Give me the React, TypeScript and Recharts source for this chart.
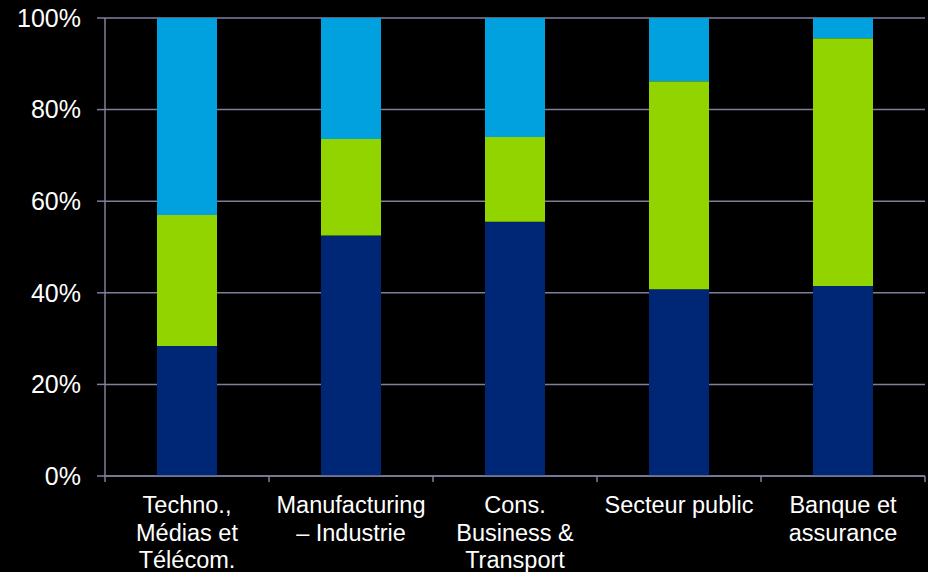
import { BarChart, Bar, XAxis, YAxis, CartesianGrid } from 'recharts'

const sectors = [
  ['Techno.,', 'Médias et', 'Télécom.'],
  ['Manufacturing', '– Industrie'],
  ['Cons.', 'Business &', 'Transport'],
  ['Secteur public'],
  ['Banque et', 'assurance'],
]
const navyValues = [28.4, 52.5, 55.5, 40.8, 41.5]
const greenValues = [28.6, 21.1, 18.5, 45.4, 54.1]
const blueValues = [43.0, 26.4, 26.0, 13.8, 4.4]
const yTicks = [0, 20, 40, 60, 80, 100]

const data = sectors.map((lines, i) => ({
  name: lines.join(' '),
  lines,
  navy: navyValues[i],
  green: greenValues[i],
  blue: blueValues[i],
}))

const FONT = '"Liberation Sans", Arial, sans-serif'
const GRID = '#7f7f9c'

function SectorTick(props: any) {
  const { x, y, payload, index } = props
  const half = payload.offset || 82
  const lines = sectors[index] || [String(payload.value)]
  return (
    <g>
      <line x1={x - half} y1={y} x2={x - half} y2={y + 6} stroke={GRID} strokeWidth={1.5} />
      {index === sectors.length - 1 && (
        <line x1={x + half} y1={y} x2={x + half} y2={y + 6} stroke={GRID} strokeWidth={1.5} />
      )}
      <text x={x} y={y + 37} textAnchor="middle" fill="#ffffff" fontSize={23.5} fontFamily={FONT}>
        {lines.map((l: string, i: number) => (
          <tspan key={i} x={x} dy={i === 0 ? 0 : 27.5}>{l}</tspan>
        ))}
      </text>
    </g>
  )
}

export default function App() {
  return (
    <div style={{ position: 'absolute', left: 0, top: 0, width: 928, height: 572, background: '#000' }}>
      <BarChart
        width={928}
        height={572}
        data={data}
        margin={{ top: 18, right: 3, left: 0, bottom: 0 }}
      >
        <CartesianGrid vertical={false} stroke={GRID} strokeWidth={1.5} />
        <XAxis
          dataKey="name"
          height={96}
          interval={0}
          tickLine={false}
          tickSize={0}
          tickMargin={0}
          axisLine={{ stroke: GRID, strokeWidth: 1.5 }}
          tick={<SectorTick />}
        />
        <YAxis
          width={105}
          domain={[0, 100]}
          ticks={yTicks}
          tickFormatter={(v) => `${v}%`}
          tickSize={8}
          tickMargin={16}
          tickLine={{ stroke: GRID, strokeWidth: 1.5 }}
          axisLine={{ stroke: GRID, strokeWidth: 1.5 }}
          tick={{ fill: '#ffffff', fontSize: 25, fontFamily: FONT }}
        />
        <Bar dataKey="navy" stackId="a" fill="#002776" barSize={60} isAnimationActive={false} />
        <Bar dataKey="green" stackId="a" fill="#92d400" barSize={60} isAnimationActive={false} />
        <Bar dataKey="blue" stackId="a" fill="#00a1de" barSize={60} isAnimationActive={false} />
      </BarChart>
    </div>
  )
}
